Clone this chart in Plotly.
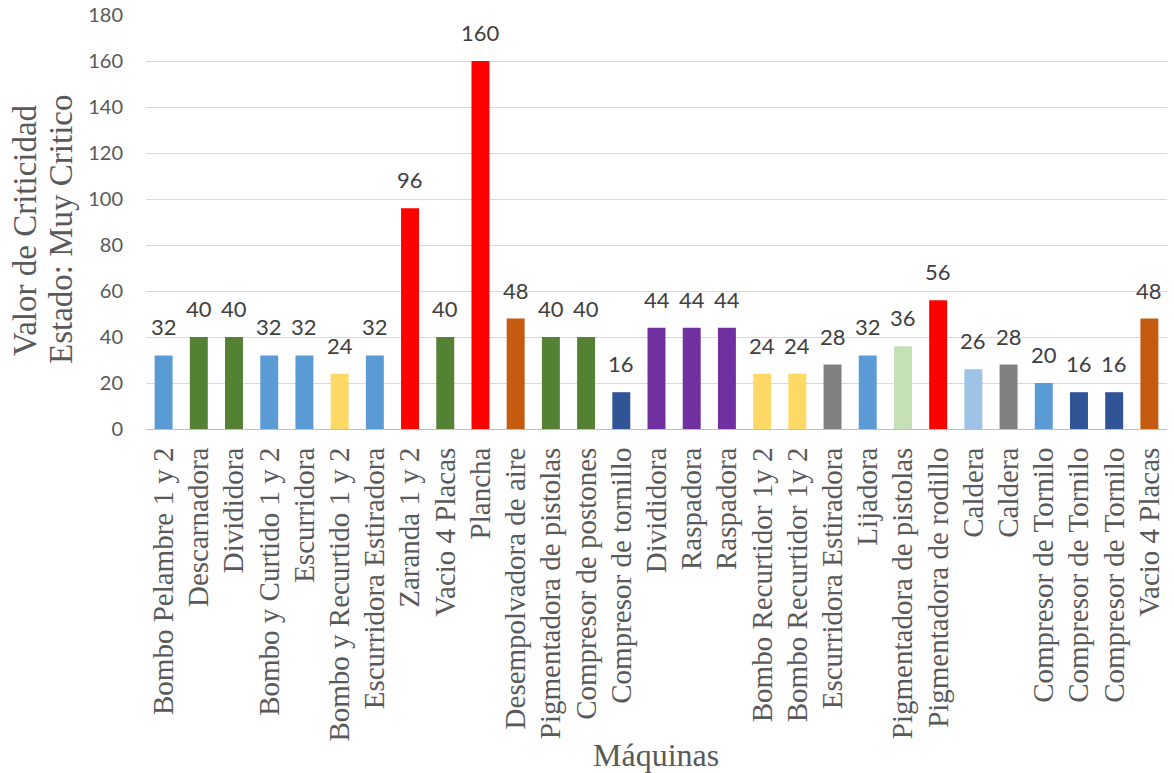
import plotly.graph_objects as go

maquinas = [
    "Bombo Pelambre 1 y 2", "Descarnadora", "Divididora", "Bombo y Curtido 1 y 2",
    "Escurridora", "Bombo y Recurtido 1 y 2", "Escurridora Estiradora", "Zaranda 1 y 2",
    "Vacio 4 Placas", "Plancha", "Desempolvadora de aire", "Pigmentadora de pistolas",
    "Compresor de postones", "Compresor de tornillo", "Divididora", "Raspadora",
    "Raspadora", "Bombo Recurtidor 1y 2", "Bombo Recurtidor 1y 2", "Escurridora Estiradora",
    "Lijadora", "Pigmentadora de pistolas", "Pigmentadora de rodillo", "Caldera",
    "Caldera", "Compresor de Tornilo", "Compresor de Tornilo", "Compresor de Tornilo",
    "Vacio 4 Placas",
]
criticidad = [32, 40, 40, 32, 32, 24, 32, 96, 40, 160, 48, 40, 40, 16, 44, 44, 44,
              24, 24, 28, 32, 36, 56, 26, 28, 20, 16, 16, 48]
colores = [
    "#5B9BD5", "#548235", "#548235", "#5B9BD5", "#5B9BD5", "#FFD966", "#5B9BD5", "#FF0000",
    "#548235", "#FF0000", "#C55A11", "#548235", "#548235", "#2F5597", "#7030A0", "#7030A0",
    "#7030A0", "#FFD966", "#FFD966", "#808080", "#5B9BD5", "#C5E0B4", "#FF0000", "#9DC3E6",
    "#808080", "#5B9BD5", "#2F5597", "#2F5597", "#C55A11",
]
y_ticks = [0, 20, 40, 60, 80, 100, 120, 140, 160, 180]
titulo_y = ["Valor de Criticidad", "Estado: Muy Critico"]
titulo_x = "Máquinas"

SERIF = "'Liberation Serif', 'Times New Roman', serif"
SANS = "Lato, 'Open Sans', sans-serif"

M_L, M_R, M_T, M_B = 146, 7, 15, 344
PLOT_W = 1174 - M_L - M_R
PLOT_H = 773 - M_T - M_B

posiciones = list(range(len(maquinas)))

fig = go.Figure(
    go.Bar(
        x=posiciones,
        y=criticidad,
        marker=dict(color=colores, line=dict(width=0)),
        width=0.51,
        hoverinfo="x+y",
    )
)

# value labels above each bar
for xi, v in zip(posiciones, criticidad):
    fig.add_annotation(
        x=xi, y=v, xref="x", yref="y",
        text=str(v), showarrow=False,
        yanchor="bottom", yshift=13,
        font=dict(family=SANS, size=22, color="#404040"),
    )

# two-line y-axis title
for xp, linea in zip([25, 61], titulo_y):
    fig.add_annotation(
        x=(xp - M_L) / PLOT_W, y=(M_T + PLOT_H - 230) / PLOT_H,
        xref="paper", yref="paper",
        text=linea, showarrow=False, textangle=-90,
        xanchor="center", yanchor="middle",
        font=dict(family=SERIF, size=33, color="#595959"),
    )

# x-axis title
fig.add_annotation(
    x=(656 - M_L) / PLOT_W, y=(M_T + PLOT_H - 755) / PLOT_H,
    xref="paper", yref="paper",
    text=titulo_x, showarrow=False, xanchor="center", yanchor="middle",
    font=dict(family=SERIF, size=32, color="#595959"),
)

fig.update_layout(
    width=1174,
    height=773,
    margin=dict(l=M_L, r=M_R, t=M_T, b=M_B, autoexpand=False),
    paper_bgcolor="white",
    plot_bgcolor="white",
    showlegend=False,
    xaxis=dict(
        tickmode="array",
        tickvals=posiciones,
        ticktext=maquinas,
        tickangle=-90,
        tickfont=dict(family=SERIF, size=29, color="#595959"),
        range=[-0.5, len(maquinas) - 0.5],
        showgrid=False,
        showline=True,
        linecolor="#BFBFBF",
        linewidth=1,
        ticks="",
        ticklabelstandoff=6,
        automargin=False,
    ),
    yaxis=dict(
        range=[0, 180],
        tickmode="array",
        tickvals=y_ticks,
        tickfont=dict(family=SANS, size=20, color="#595959"),
        showgrid=True,
        gridcolor="#D9D9D9",
        gridwidth=1,
        zeroline=False,
        showline=False,
        ticks="",
        ticklabelstandoff=22,
        automargin=False,
    ),
)

fig.write_html("out.html")
